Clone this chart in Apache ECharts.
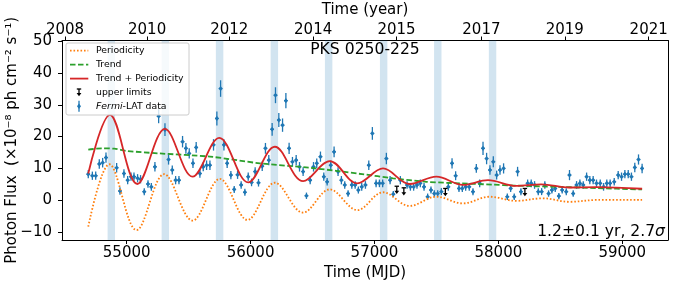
<!DOCTYPE html>
<html><head><meta charset="utf-8">
<script src="https://cdn.jsdelivr.net/npm/echarts@6/dist/echarts.min.js"></script>
<style>html,body{margin:0;padding:0;background:#fff}#c{width:676px;height:282px}</style>
</head><body><div id="c"></div>
<script>
// ---------- data ----------
const mjd = [
54690,54723,54750,54779,54806,54833,54919,54946,54978,55008,
55035,55059,55088,55112,55142,55172,55199,55228,55258,55309,
55338,55368,55395,55422,55451,55478,55505,55535,55561,55591,
55618,55645,55672,55701,55728,55758,55785,55811,55841,55868,
55895,55924,55954,55981,56008,56037,56064,56094,56120,56147,
56174,56201,56228,56258,56285,56311,56338,56368,56395,56424,
56451,56481,56508,56534,56564,56591,56618,56647,56674,56706,
56733,56760,56787,56817,56844,56870,56897,56927,56954,56983,
57013,57040,57066,57096,57126,57152,57209,57263,57290,57316,
57343,57370,57400,57429,57456,57483,57510,57540,57596,57626,
57655,57682,57709,57736,57765,57795,57822,57849,57876,57905,
57932,57959,57986,58013,58042,58072,58099,58128,58155,58182,
58236,58265,58292,58322,58349,58375,58405,58432,58459,58488,
58515,58548,58574,58604,58631,58658,58685,58712,58738,58765,
58792,58822,58849,58875,58902,58935,58967,58994,59021,59048,
59074,59101,59131,59160];
const flux = [
8.2,7.7,7.7,11.4,11.8,13.4,10.2,2.9,8.4,6.3,
7.4,7.4,6.9,6.6,2.7,5.1,4.2,10.5,26.4,22.2,
12.8,9.5,6.3,6.3,18.4,16.3,14.7,11.6,16.6,8.4,
10.5,11.0,11.0,17.4,25.7,35.1,17.4,11.6,7.9,3.4,
8.0,4.8,2.5,7.4,5.6,9.0,5.5,10.7,16.3,12.6,
22.3,33.0,25.2,23.6,31.3,16.3,12.1,12.6,10.5,9.0,
1.4,6.3,10.5,11.6,13.7,7.4,5.8,11.0,15.2,9.0,
6.3,4.8,2.1,4.8,4.8,3.2,4.2,4.8,11.0,21.0,
5.3,5.3,5.3,13.1,6.3,1.9,6.3,4.8,4.2,4.2,
4.8,5.3,4.2,1.1,3.2,2.1,2.1,2.7,4.2,11.6,
7.7,3.7,3.7,4.2,4.2,2.7,10.0,5.3,16.3,13.1,
9.5,12.1,7.9,9.5,10.0,1.1,3.7,1.1,9.0,2.7,
5.3,5.3,4.8,2.7,2.7,4.8,2.1,3.2,3.7,1.3,
3.2,2.7,7.9,2.1,4.8,5.3,4.8,7.4,6.3,6.3,
5.3,5.3,4.2,5.3,5.3,5.8,7.9,7.4,8.2,8.2,
7.4,10.3,12.8,10.0];
const fluxErr = [
1.3,1.3,1.3,1.5,1.5,1.6,1.5,1.2,1.3,1.3,
1.3,1.3,1.3,1.3,1.1,1.2,1.2,1.5,2.2,2.0,
1.6,1.4,1.3,1.3,1.8,1.7,1.6,1.5,1.7,1.3,
1.4,1.5,1.5,1.8,2.2,2.6,1.8,1.5,1.3,1.1,
1.3,1.2,1.1,1.3,1.2,1.4,1.2,1.5,1.7,1.6,
2.0,2.5,2.2,2.1,2.4,1.8,1.5,1.6,1.5,1.4,
1.0,1.3,1.5,1.5,1.6,1.3,1.2,1.5,1.7,1.4,
1.3,1.2,1.0,1.2,1.2,1.1,1.2,1.2,1.5,2.0,
1.2,1.2,1.2,1.8,1.3,1.0,1.3,1.2,1.2,1.2,
1.2,1.2,1.2,1.0,1.1,1.0,1.0,1.1,1.2,1.6,
1.4,1.1,1.1,1.2,1.2,1.1,1.4,1.2,2.1,1.8,
1.5,1.7,1.4,1.5,1.6,1.0,1.1,1.0,1.5,1.1,
1.2,1.2,1.2,1.1,1.1,1.2,1.0,1.1,1.1,1.0,
1.1,1.1,1.6,1.0,1.2,1.2,1.2,1.3,1.3,1.3,
1.2,1.2,1.2,1.2,1.2,1.2,1.3,1.3,1.3,1.3,
1.3,1.5,1.6,1.5];
const binHalfWidth = 15; // days

const ulMjd  = [57180, 57237, 57572, 58214];
const ulFlux = [3.3, 2.8, 2.6, 2.6];

// model curves: values read at the extrema of each curve
const periodMjd  = [54690,54860,55080,55303,55532,55752,55975,56196,56424,56639,56862,57069,57284,57499,57714,57929,58144,58359,58574,58800,59160];
const periodFlux = [-8.3,11.3,-9.4,8.2,-6.4,6.7,-6.2,5.5,-3.9,3.4,-3.1,2.5,-1.8,1.1,-1.0,1.1,-0.2,0.6,-0.5,0.1,0.1];

const trendMjd  = [54690,54800,54900,55000,55268,55672,56075,56478,56900,57150,57419,57700,57956,58126,58494,58800,59160];
const trendFlux = [15.9,16.3,16.2,15.5,14.7,13.7,11.6,10.2,8.2,6.9,5.8,5.3,4.9,4.6,4.2,3.8,3.4];

const sumMjd  = [54690,54865,55086,55309,55532,55747,55981,56196,56424,56639,56862,57069,57284,57499,57714,57916,58144,58346,58574,58790,59160];
const sumFlux = [8.4,26.8,5.1,22.4,7.4,19.6,5.6,16.8,6.0,12.3,5.3,10.0,5.1,7.4,4.8,6.3,4.5,5.0,4.0,4.1,3.6];

const bandCenters = [54876,55312,55750,56192,56630,57074,57511,57953];
const bandHalfWidth = 30; // days

const mjdTicks = [55000,56000,57000,58000,59000];
const yTicks = [-10,0,10,20,30,40,50];
const yearTickMjd = [54502,55165,55828,56505,57178,57863,58536,59213];
const yearLabels = ['2008','2010','2012','2014','2015','2017','2019','2021'];

const xMin = 54478, xMax = 59369, yMin = -12.5, yMax = 50.2;

// ---------- chart ----------
const FONT = 'DejaVu Sans';
const BLUE = '#1f77b4';
const chart = echarts.init(document.getElementById('c'), null, {renderer: 'canvas'});
const pair = (xs, ys) => xs.map((x, i) => [x, ys[i]]);
const minus = s => String(s).replace('-', '\u2212');

const axisLineStyle = {show: true, onZero: false, lineStyle: {color: '#000', width: 1}};
const tickStyle = {show: true, inside: false, length: 4, lineStyle: {color: '#000', width: 1}};

const option = {
  animation: false,
  backgroundColor: '#fff',
  grid: {left: 62, right: 8, top: 40.5, bottom: 42, containLabel: false, outerBoundsMode: 'none'},
  xAxis: [
    {type: 'value', position: 'bottom', min: xMin, max: xMax,
     axisLine: axisLineStyle,
     axisTick: Object.assign({}, tickStyle, {customValues: mjdTicks}),
     axisLabel: {customValues: mjdTicks, fontFamily: FONT, fontSize: 15, color: '#000', margin: 6,
       formatter: v => String(Math.round(v))},
     splitLine: {show: false},
     name: 'Time (MJD)', nameLocation: 'middle', nameGap: 26, nameMoveOverlap: false,
     nameTextStyle: {fontFamily: FONT, fontSize: 15, color: '#000'}},
    {type: 'value', position: 'top', min: xMin, max: xMax,
     axisLine: axisLineStyle,
     axisTick: Object.assign({}, tickStyle, {customValues: yearTickMjd}),
     axisLabel: {customValues: yearTickMjd, fontFamily: FONT, fontSize: 15, color: '#000', margin: 3,
       formatter: v => {
         let best = 0;
         yearTickMjd.forEach((t, i) => { if (Math.abs(t - v) < Math.abs(yearTickMjd[best] - v)) best = i; });
         return yearLabels[best];
       }},
     splitLine: {show: false},
     name: 'Time (year)', nameLocation: 'middle', nameGap: 23, nameMoveOverlap: false,
     nameTextStyle: {fontFamily: FONT, fontSize: 15, color: '#000'}}
  ],
  yAxis: [
    {type: 'value', position: 'left', min: yMin, max: yMax,
     axisLine: axisLineStyle,
     axisTick: Object.assign({}, tickStyle, {customValues: yTicks}),
     axisLabel: {customValues: yTicks, fontFamily: FONT, fontSize: 15, color: '#000', margin: 10,
       formatter: v => minus(v)},
     splitLine: {show: false},
     name: 'Photon Flux  (\u00d710\u207b\u2078 ph cm\u207b\u00b2 s\u207b\u00b9)',
     nameLocation: 'middle', nameGap: 42, nameMoveOverlap: false,
     nameTextStyle: {fontFamily: FONT, fontSize: 15, color: '#000'}},
    {type: 'value', position: 'right', min: yMin, max: yMax,
     axisLine: axisLineStyle, axisTick: {show: false}, axisLabel: {show: false}, splitLine: {show: false}}
  ],
  series: [
    { // shaded epochs
      type: 'custom', name: 'bands', xAxisIndex: 0, yAxisIndex: 0, z: 1, silent: true,
      data: bandCenters.map(c => [c]),
      encode: {x: 0},
      renderItem(params, api) {
        const c = api.value(0);
        const a = api.coord([c - bandHalfWidth, yMax]);
        const b = api.coord([c + bandHalfWidth, yMin]);
        return {type: 'rect', shape: {x: a[0], y: a[1], width: b[0] - a[0], height: b[1] - a[1]},
                style: {fill: 'rgba(31,119,180,0.2)'}};
      }
    },
    { // Fermi-LAT data
      type: 'custom', name: 'Fermi-LAT data', xAxisIndex: 0, yAxisIndex: 0, z: 3,
      data: mjd.map((m, i) => [m, flux[i], fluxErr[i]]),
      encode: {x: 0, y: 1},
      renderItem(params, api) {
        const x = api.value(0), y = api.value(1), e = api.value(2);
        const c = api.coord([x, y]);
        const t = api.coord([x, y + e]), b = api.coord([x, y - e]);
        const l = api.coord([x - binHalfWidth, y]), r = api.coord([x + binHalfWidth, y]);
        const s = {stroke: BLUE, lineWidth: 1.3};
        return {type: 'group', children: [
          {type: 'line', shape: {x1: c[0], y1: t[1], x2: c[0], y2: b[1]}, style: s},
          {type: 'line', shape: {x1: l[0], y1: c[1], x2: r[0], y2: c[1]}, style: s},
          {type: 'polygon', shape: {points: [[c[0], c[1] - 2.6], [c[0] + 2, c[1]], [c[0], c[1] + 2.6], [c[0] - 2, c[1]]]},
           style: {fill: BLUE}}
        ]};
      }
    },
    { // upper limits
      type: 'custom', name: 'upper limits', xAxisIndex: 0, yAxisIndex: 0, z: 4,
      data: ulMjd.map((m, i) => [m, ulFlux[i]]),
      encode: {x: 0, y: 1},
      renderItem(params, api) {
        const c = api.coord([api.value(0), api.value(1)]);
        const s = {stroke: '#000', lineWidth: 1.3};
        return {type: 'group', children: [
          {type: 'line', shape: {x1: c[0] - 2.2, y1: c[1] - 3.5, x2: c[0] + 2.2, y2: c[1] - 3.5}, style: s},
          {type: 'line', shape: {x1: c[0], y1: c[1] - 3.5, x2: c[0], y2: c[1] + 2}, style: s},
          {type: 'polygon', shape: {points: [[c[0] - 2.4, c[1] + 1], [c[0] + 2.4, c[1] + 1], [c[0], c[1] + 4.2]]},
           style: {fill: '#000'}}
        ]};
      }
    },
    {type: 'line', name: 'Periodicity', data: pair(periodMjd, periodFlux), showSymbol: false, smooth: 0.36, z: 5,
     lineStyle: {color: '#ff7f0e', width: 1.8, type: [1.6, 1.9], cap: 'butt'}},
    {type: 'line', name: 'Trend', data: pair(trendMjd, trendFlux), showSymbol: false, smooth: 0.3, z: 5,
     lineStyle: {color: '#2ca02c', width: 1.8, type: [5.5, 2.5]}},
    {type: 'line', name: 'Trend + Periodicity', data: pair(sumMjd, sumFlux), showSymbol: false, smooth: 0.36, z: 6,
     lineStyle: {color: '#d62728', width: 1.8}}
  ],
  graphic: [
    {type: 'text', z: 50, x: 365, y: 50, style: {text: 'PKS 0250-225', fontFamily: FONT, fontSize: 15.6, fill: '#000', align: 'center', verticalAlign: 'middle'}},
    {type: 'text', z: 50, x: 665, y: 232, style: {
      text: '1.2\u00b10.1 yr, 2.7{s|\u03c3}', fontFamily: FONT, fontSize: 15.6, fill: '#000',
      align: 'right', verticalAlign: 'middle',
      rich: {s: {fontFamily: FONT, fontSize: 15.6, fontStyle: 'italic', fill: '#000'}}}},
    // legend
    {type: 'rect', z: 40, shape: {x: 66, y: 43, width: 123, height: 72, r: 2},
     style: {fill: 'rgba(255,255,255,0.8)', stroke: '#cccccc', lineWidth: 1}},
    {type: 'line', z: 41, shape: {x1: 70, y1: 50.7, x2: 88.3, y2: 50.7}, style: {stroke: '#ff7f0e', lineWidth: 1.8, lineDash: [1.6, 1.9]}},
    {type: 'line', z: 41, shape: {x1: 70, y1: 64.7, x2: 88.3, y2: 64.7}, style: {stroke: '#2ca02c', lineWidth: 1.8, lineDash: [5.5, 2.5]}},
    {type: 'line', z: 41, shape: {x1: 70, y1: 78.6, x2: 88.3, y2: 78.6}, style: {stroke: '#d62728', lineWidth: 1.8}},
    {type: 'line', z: 41, shape: {x1: 76.8, y1: 89, x2: 81.2, y2: 89}, style: {stroke: '#000', lineWidth: 1.3}},
    {type: 'line', z: 41, shape: {x1: 79, y1: 89, x2: 79, y2: 94}, style: {stroke: '#000', lineWidth: 1.3}},
    {type: 'polygon', z: 41, shape: {points: [[76.6, 93], [81.4, 93], [79, 96.2]]}, style: {fill: '#000'}},
    {type: 'line', z: 41, shape: {x1: 79, y1: 100.8, x2: 79, y2: 111.8}, style: {stroke: BLUE, lineWidth: 1.3}},
    {type: 'polygon', z: 41, shape: {points: [[79, 103.6], [81, 106.3], [79, 109], [77, 106.3]]}, style: {fill: BLUE}},
    {type: 'text', z: 41, x: 96, y: 50.7, style: {text: 'Periodicity', fontFamily: FONT, fontSize: 9.3, fill: '#000', verticalAlign: 'middle'}},
    {type: 'text', z: 41, x: 96, y: 64.7, style: {text: 'Trend', fontFamily: FONT, fontSize: 9.3, fill: '#000', verticalAlign: 'middle'}},
    {type: 'text', z: 41, x: 96, y: 78.6, style: {text: 'Trend + Periodicity', fontFamily: FONT, fontSize: 9.3, fill: '#000', verticalAlign: 'middle'}},
    {type: 'text', z: 41, x: 96, y: 92.4, style: {text: 'upper limits', fontFamily: FONT, fontSize: 9.3, fill: '#000', verticalAlign: 'middle'}},
    {type: 'text', z: 41, x: 96, y: 106.3, style: {text: '{i|Fermi}-LAT data', fontFamily: FONT, fontSize: 9.3, fill: '#000', verticalAlign: 'middle',
      rich: {i: {fontFamily: FONT, fontSize: 9.3, fontStyle: 'italic', fill: '#000'}}}}
  ]
};
chart.setOption(option);
</script>
</body></html>
